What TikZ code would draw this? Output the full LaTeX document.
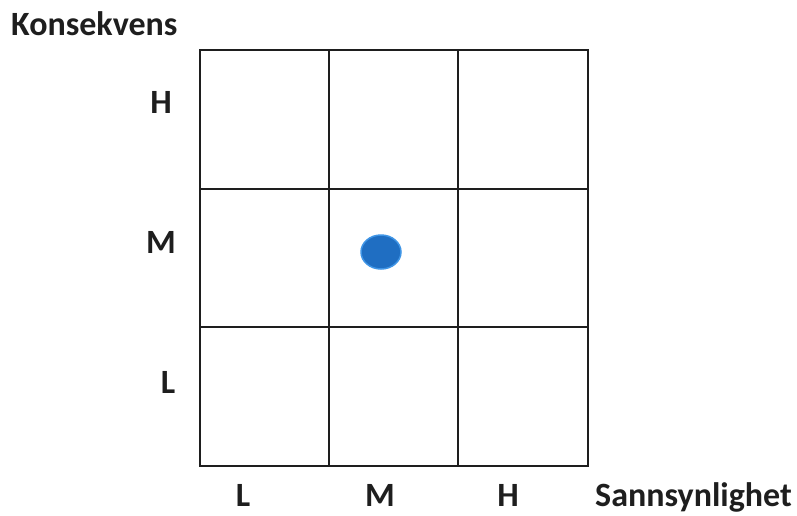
\documentclass[tikz,border=0pt]{standalone}
\usepackage{fontspec}
\setmainfont{Carlito}
\definecolor{dotblue}{HTML}{1F6EC2}
\definecolor{dotedge}{HTML}{3F95E6}
\definecolor{gridc}{HTML}{1E1E1E}
\begin{document}
\begin{tikzpicture}[x=1pt,y=-1pt,
  gridline/.style={draw=gridc,line width=2.8pt},
  lbl/.style={font=\bfseries\fontsize{34}{34}\selectfont,text=gridc,inner sep=0pt,anchor=base}]
\useasboundingbox (0,0) rectangle (797,515);
\fill[white] (0,0) rectangle (797,515);
\coordinate (tl) at (200,50);
\coordinate (br) at (588,466);
\foreach \x in {329,458} \draw[gridline] (\x,50) -- (\x,466);
\foreach \y in {189,327} \draw[gridline] (200,\y) -- (588,\y);
\draw[gridline] (tl) rectangle (br);
\node[lbl,anchor=base west] (kons) at (11,35) {Konsekvens};
\node[lbl] (yh) at (161,113) {H};
\node[lbl] (ym) at (161,253) {M};
\node[lbl] (yl) at (168,393) {L};
\node[lbl] (xl) at (243,506) {L};
\node[lbl] (xm) at (380,506) {M};
\node[lbl] (xh) at (508,506) {H};
\node[lbl,anchor=base west] (sann) at (595,506) {Sannsynlighet};
\draw[fill=dotblue,draw=dotedge,line width=1.5pt] (381,252) ellipse [x radius=20, y radius=17];
\end{tikzpicture}
\end{document}
